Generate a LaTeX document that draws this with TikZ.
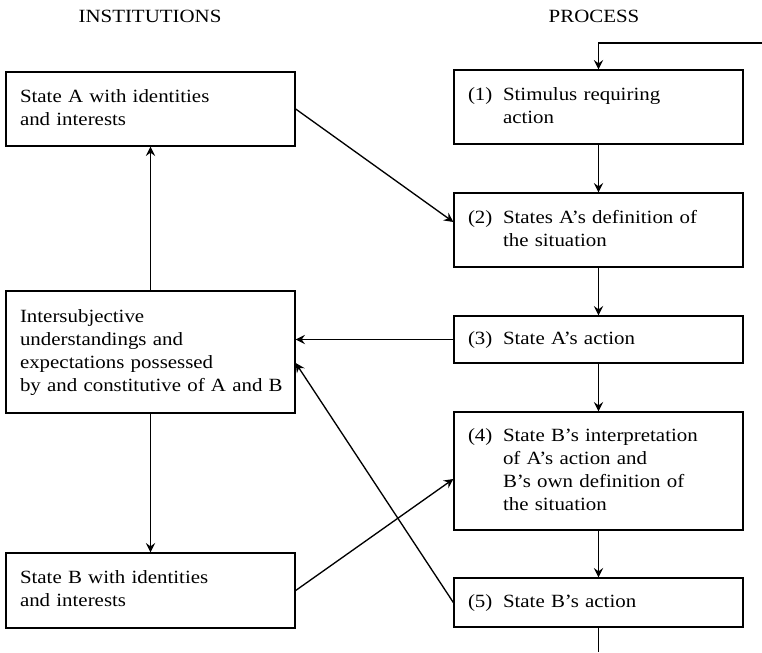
\documentclass[tikz,border=0pt]{standalone}
\usepackage{fontspec}
\setmainfont{Liberation Serif}[FakeStretch=1.12]
\usetikzlibrary{arrows.meta}

% numbered step text with hanging indent
\newcommand{\numtext}[2]{\makebox[26.25pt][l]{#1}\begin{tabular}[t]{@{}l@{}}#2\end{tabular}}
\newcommand{\plaintext}[1]{\begin{tabular}[t]{@{}l@{}}#1\end{tabular}}

\begin{document}
\begin{tikzpicture}[x=0.75pt, y=-0.75pt,
    font=\fontsize{14}{17.25}\selectfont,
    box/.style={draw, line width=1pt, minimum width=216.75pt, text width=195.75pt,
        inner xsep=10.5pt, inner ysep=0pt},
    arr/.style={line width=1pt, -{Stealth[length=7pt, width=7pt, inset=2.5pt]}},
    line/.style={line width=1pt}]
    \useasboundingbox (0,0) rectangle (762,652);

    % Column titles
    \node (inst) at (150,16) {INSTITUTIONS};
    \node (proc) at (594,16) {PROCESS};

    % Institutions
    \node[box, minimum height=55.5pt] (stateA) at (150.5,109) {\plaintext{State A with identities\\and interests}};
    \node[box, minimum height=91.5pt] (inter) at (150.5,352) {\plaintext{Intersubjective\\understandings and\\expectations possessed\\by and constitutive of A and B}};
    \node[box, minimum height=56.25pt] (stateB) at (150.5,590.5) {\plaintext{State B with identities\\and interests}};

    % Process
    \node[box, minimum height=55.5pt] (s1) at (598.5,107) {\numtext{(1)}{Stimulus requiring\\action}};
    \node[box, minimum height=55.5pt] (s2) at (598.5,230) {\numtext{(2)}{States A's definition of\\the situation}};
    \node[box, minimum height=35.25pt] (s3) at (598.5,339.5) {\numtext{(3)}{State A's action}};
    \node[box, minimum height=88.5pt] (s4) at (598.5,471) {\numtext{(4)}{State B's interpretation\\of A's action and\\B's own definition of\\the situation}};
    \node[box, minimum height=36.75pt] (s5) at (598.5,602.5) {\numtext{(5)}{State B's action}};

    % Loop ends
    \coordinate (loopin) at (762,43);
    \coordinate (loopout) at (598.5,652);

    % Process chain
    \draw[arr] (loopin) -| (s1.north);
    \foreach \a/\b in {s1/s2, s2/s3, s3/s4, s4/s5}
        \draw[arr] (\a) -- (\b);
    \draw[line] (s5) -- (loopout);

    % Institutions links
    \draw[arr] (inter) -- (stateA);
    \draw[arr] (inter) -- (stateB);

    % Cross links
    \draw[arr] (stateA.east) -- ([yshift=6pt]s2.west);
    \draw[arr] (s3.west) -- (s3.west -| inter.east);
    \draw[arr] (stateB.east) -- ([yshift=-6pt]s4.west);
    \draw[arr] (s5.west) -- ([yshift=-8.25pt]inter.east);
\end{tikzpicture}
\end{document}
